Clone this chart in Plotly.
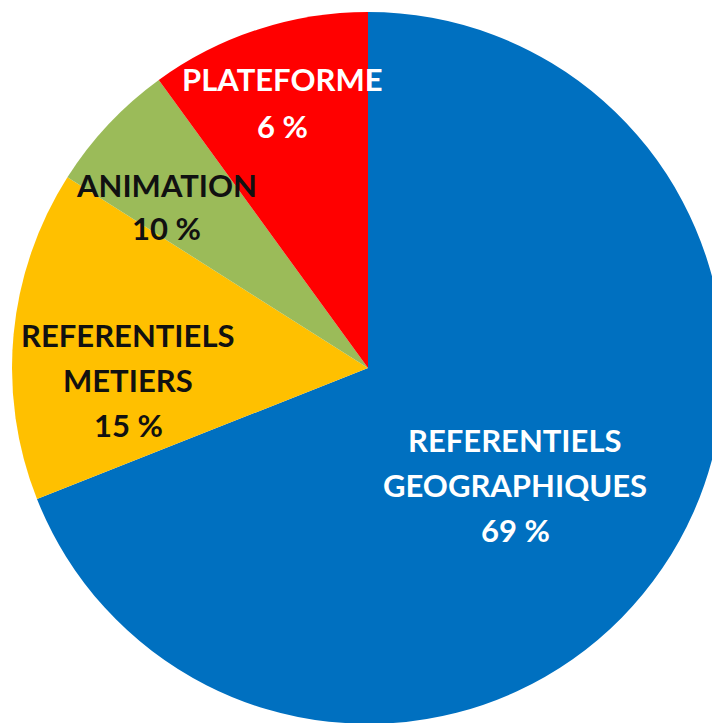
import math
import plotly.graph_objects as go

# ---- data ----
categories = ["REFERENTIELS<br>GEOGRAPHIQUES", "REFERENTIELS<br>METIERS", "ANIMATION", "PLATEFORME"]
slice_values = [69, 15, 6, 10]          # slice sizes as drawn
label_percents = ["69 %", "15 %", "10 %", "6 %"]  # percentages as printed on the chart

# ---- style ----
colors = ["#0070C0", "#FFC000", "#9BBB59", "#FF0000"]
text_colors = ["#FFFFFF", "#111111", "#111111", "#FFFFFF"]
label_radius = [0.528, 0.675, 0.726, 0.782]     # fraction of pie radius
label_angle_shift = [4.3, -8.3, -4.6, 0.2]      # degrees
line_spacing = [45, 45, 43, 47]
FONT = "Lato, 'Open Sans', sans-serif"
FONT_SIZE = 31

# page body has an 8px margin; figure coords are shifted by 8px
W, H = 720, 723
dom_x = [4 / W, 716 / W]
dom_y = [7 / H, 1 - 4 / H]

fig = go.Figure(go.Pie(
    labels=[c.replace("<br>", " ") for c in categories],
    values=slice_values,
    marker=dict(colors=colors, line=dict(width=0)),
    sort=False,
    direction="clockwise",
    rotation=0,
    textinfo="none",
    hoverinfo="label+percent",
    showlegend=False,
    domain=dict(x=dom_x, y=dom_y),
))

# pie geometry in pixels (as plotly computes it)
dw = (dom_x[1] - dom_x[0]) * W
dh = (dom_y[1] - dom_y[0]) * H
R = min(dw, dh) / 2
cx = (dom_x[0] + dom_x[1]) / 2 * W
cy = (1 - (dom_y[0] + dom_y[1]) / 2) * H

total = sum(slice_values)
start = 0.0
annotations = []
for i, v in enumerate(slice_values):
    span = v / total * 360
    mid = start + span / 2 + label_angle_shift[i]
    start += span
    r = label_radius[i] * R
    px = cx + r * math.sin(math.radians(mid))
    py = cy - r * math.cos(math.radians(mid))
    lines = categories[i].split("<br>") + [label_percents[i]]
    n = len(lines)
    for j, line in enumerate(lines):
        ly = py + (j - (n - 1) / 2) * line_spacing[i]
        annotations.append(dict(
            x=px / W, y=1 - ly / H, xref="paper", yref="paper",
            text=f"<b>{line}</b>", showarrow=False,
            xanchor="center", yanchor="middle",
            font=dict(family=FONT, size=FONT_SIZE, color=text_colors[i]),
        ))

fig.update_layout(
    width=W, height=H,
    margin=dict(l=0, r=0, t=0, b=0),
    paper_bgcolor="white",
    plot_bgcolor="white",
    annotations=annotations,
)

fig.write_html(
    "out.html",
    post_script="document.documentElement.style.overflow='hidden';document.body.style.overflow='hidden';",
)
